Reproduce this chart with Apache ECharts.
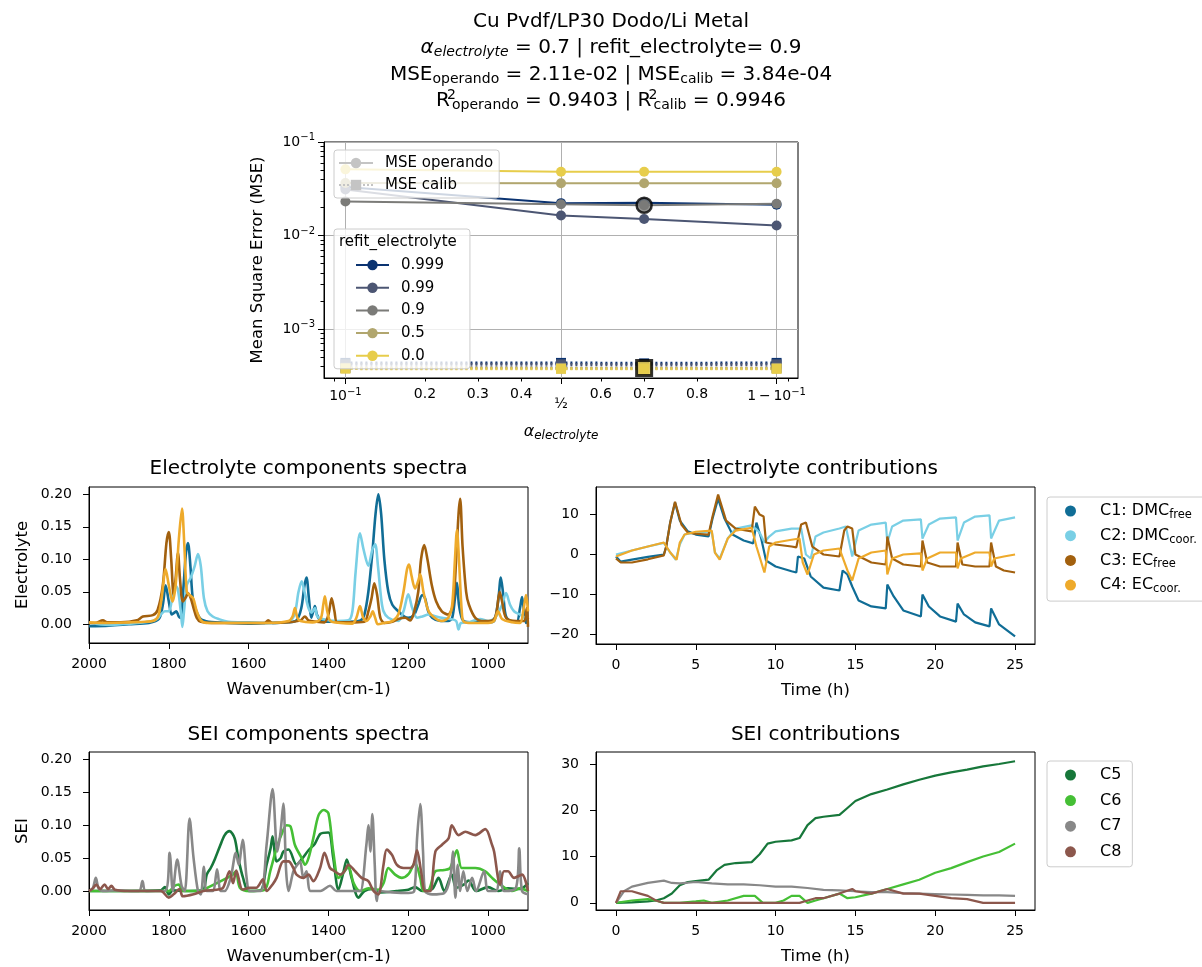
<!DOCTYPE html>
<html>
<head>
<meta charset="utf-8">
<script src="https://cdn.jsdelivr.net/npm/echarts@6.0.0/dist/echarts.min.js"></script>
<style>
  html, body { margin: 0; padding: 0; background: #fff; }
  #chart { width: 1202px; height: 967px; }
</style>
</head>
<body>
<div id="chart"></div>
<script>
const FONT = 'DejaVu Sans';

// ---- top panel: MSE vs alpha_electrolyte ----
const alphaValues = [0.1, 0.5, 0.7, 0.9];
const refitLabels = ['0.999', '0.99', '0.9', '0.5', '0.0'];
const refitColors = ['#0b3371', '#4c5673', '#7b7b78', '#b1a66e', '#e7cd4b'];
const mseOperando = [
  [0.033, 0.0222, 0.0224, 0.0214],
  [0.031, 0.0164, 0.0150, 0.0128],
  [0.0231, 0.0216, 0.0211, 0.0219],
  [0.0365, 0.0362, 0.0362, 0.0362],
  [0.051, 0.048, 0.048, 0.048]
];
const mseCalib = [
  [4.35e-4, 4.35e-4, 4.3e-4, 4.35e-4],
  [4.2e-4, 4.2e-4, 4.15e-4, 4.2e-4],
  [3.86e-4, 3.85e-4, 3.84e-4, 3.85e-4],
  [3.82e-4, 3.8e-4, 3.8e-4, 3.8e-4],
  [3.78e-4, 3.76e-4, 3.76e-4, 3.76e-4]
];
const bestAlpha = 0.7;
const bestOperando = 0.0211;
const bestCalib = 3.84e-4;
const alphaMajorTicks = [0.1, 0.5, 0.9];
const alphaMinorTicks = [0.09, 0.2, 0.3, 0.4, 0.6, 0.7, 0.8, 0.91];
const alphaMinorLabels = [0.2, 0.3, 0.4, 0.6, 0.7, 0.8];
const mseMajorTicks = [1e-3, 1e-2, 1e-1];
const mseMinorTicks = [4e-4, 5e-4, 6e-4, 7e-4, 8e-4, 9e-4,
  2e-3, 3e-3, 4e-3, 5e-3, 6e-3, 7e-3, 8e-3, 9e-3,
  2e-2, 3e-2, 4e-2, 5e-2, 6e-2, 7e-2, 8e-2, 9e-2];

// ---- spectra: [wavenumber, intensity] ----
const wavenumberTicks = [2000, 1800, 1600, 1400, 1200, 1000];
const spectraTicks = [0, 0.05, 0.1, 0.15, 0.2];

const elecC1Spec = [[2000,-0.003],[1950,-0.002],[1900,0],[1850,0.002],[1825,0.008],[1815,0.03],[1808,0.06],[1800,0.035],[1793,0.015],[1786,0.018],[1781,0.02],[1775,0.012],[1770,0.01],[1763,0.06],[1757,0.11],[1752,0.125],[1746,0.09],[1740,0.04],[1731,0.02],[1720,0.008],[1700,0.004],[1650,0.002],[1600,0.001],[1550,0.002],[1500,0.003],[1480,0.006],[1468,0.025],[1460,0.06],[1455,0.072],[1449,0.04],[1443,0.01],[1438,0.02],[1434,0.028],[1429,0.015],[1420,0.006],[1400,0.004],[1350,0.004],[1320,0.006],[1310,0.015],[1300,0.05],[1290,0.11],[1282,0.17],[1275,0.2],[1268,0.17],[1260,0.1],[1250,0.05],[1240,0.03],[1225,0.02],[1210,0.012],[1200,0.01],[1185,0.015],[1175,0.03],[1165,0.045],[1158,0.04],[1150,0.02],[1140,0.01],[1120,0.005],[1100,0.005],[1090,0.01],[1083,0.04],[1078,0.064],[1073,0.03],[1065,0.008],[1057,0.004],[1030,0.003],[1000,0.003],[985,0.005],[975,0.035],[968,0.072],[962,0.045],[955,0.012],[940,0.004],[928,0.004],[920,0.025],[915,0.042],[910,0.02],[905,0.002],[900,0.01]];
const elecC2Spec = [[2000,0.002],[1950,-0.001],[1900,0.001],[1860,0.003],[1830,0.008],[1820,0.015],[1810,0.02],[1800,0.02],[1793,0.035],[1785,0.06],[1778,0.055],[1770,0.02],[1766,-0.004],[1762,0.02],[1755,0.06],[1745,0.072],[1735,0.09],[1727,0.108],[1720,0.09],[1712,0.04],[1703,0.02],[1690,0.012],[1675,0.008],[1650,0.004],[1600,0.003],[1550,0.002],[1500,0.004],[1485,0.015],[1475,0.05],[1467,0.066],[1460,0.05],[1450,0.025],[1442,0.018],[1434,0.025],[1428,0.012],[1415,0.008],[1380,0.005],[1350,0.006],[1340,0.02],[1332,0.08],[1321,0.14],[1312,0.115],[1300,0.09],[1290,0.115],[1283,0.123],[1276,0.09],[1268,0.04],[1262,0.02],[1250,0.01],[1225,0.005],[1212,0.02],[1200,0.046],[1190,0.025],[1178,0.01],[1165,0.012],[1149,0.015],[1130,0.012],[1116,0.01],[1095,0.008],[1080,0.005],[1074,-0.008],[1068,0.002],[1050,0.003],[1020,0.008],[1000,0.005],[980,0.012],[965,0.03],[955,0.048],[945,0.03],[935,0.02],[920,0.015],[905,0.01],[900,0.012]];
const elecC3Spec = [[2000,0.002],[1985,0.002],[1965,0.006],[1955,0.003],[1920,0.003],[1880,0.006],[1865,0.012],[1840,0.014],[1828,0.022],[1815,0.06],[1806,0.125],[1800,0.142],[1794,0.1],[1788,0.045],[1783,0.07],[1777,0.11],[1772,0.07],[1765,0.035],[1757,0.042],[1752,0.048],[1745,0.04],[1738,0.025],[1730,0.01],[1720,0.004],[1680,0.002],[1640,0.002],[1560,0.002],[1551,0.006],[1540,0.002],[1500,0.003],[1470,0.006],[1459,0.012],[1450,0.006],[1430,0.004],[1410,0.003],[1400,0.015],[1392,0.04],[1385,0.02],[1378,0.003],[1350,0.003],[1310,0.004],[1300,0.02],[1292,0.04],[1285,0.063],[1278,0.045],[1270,0.01],[1260,0.002],[1240,0.004],[1225,0.008],[1208,0.01],[1195,0.006],[1185,0.02],[1175,0.05],[1168,0.1],[1160,0.122],[1152,0.1],[1141,0.06],[1130,0.035],[1116,0.02],[1100,0.015],[1088,0.03],[1080,0.1],[1074,0.17],[1070,0.193],[1064,0.12],[1055,0.05],[1048,0.03],[1032,0.01],[1010,0.005],[990,0.006],[980,0.015],[971,0.05],[965,0.035],[955,0.01],[930,0.005],[910,0.005],[903,0.025],[900,-0.004]];
const elecC4Spec = [[2000,0.003],[1960,0.002],[1900,0.003],[1860,0.004],[1840,0.005],[1827,0.012],[1818,0.04],[1808,0.085],[1800,0.06],[1791,0.035],[1783,0.06],[1775,0.13],[1767,0.178],[1761,0.12],[1755,0.05],[1748,0.045],[1739,0.04],[1730,0.02],[1718,0.005],[1700,0.002],[1650,0.002],[1600,0.002],[1550,0.002],[1500,0.005],[1490,0.012],[1484,0.025],[1478,0.01],[1470,0.005],[1440,0.003],[1420,0.008],[1413,0.03],[1409,0.043],[1403,0.02],[1395,0.005],[1370,0.002],[1340,0.001],[1330,0.01],[1321,0.028],[1313,0.01],[1305,0.005],[1295,0.012],[1289,0.02],[1283,0.01],[1276,0.0],[1260,0.002],[1240,0.005],[1225,0.015],[1212,0.05],[1203,0.085],[1198,0.092],[1192,0.075],[1183,0.055],[1176,0.065],[1170,0.077],[1162,0.05],[1149,0.02],[1130,0.008],[1116,0.005],[1100,0.01],[1090,0.03],[1083,0.1],[1078,0.145],[1073,0.1],[1066,0.02],[1061,0.004],[1040,0.002],[1000,0.002],[985,0.005],[975,0.02],[965,0.008],[940,0.003],[920,0.002],[912,0.02],[905,0.045],[900,0.02]];

const seiC5Spec = [[2000,0],[1900,0],[1820,0.001],[1810,0.006],[1800,-0.005],[1790,0.001],[1750,0.0],[1715,0.001],[1705,0.025],[1695,0.035],[1685,0.048],[1672,0.068],[1660,0.085],[1648,0.091],[1635,0.08],[1626,0.05],[1614,0.02],[1600,0.0],[1570,0.001],[1555,0.04],[1545,0.065],[1540,0.083],[1530,0.045],[1520,0.05],[1513,0.06],[1500,0.063],[1480,0.04],[1465,0.05],[1450,0.062],[1434,0.072],[1420,0.087],[1400,0.089],[1388,0.05],[1375,0.002],[1362,0.03],[1354,0.048],[1342,0.02],[1325,-0.01],[1310,0.0],[1290,0.003],[1270,-0.002],[1230,0.0],[1200,0.002],[1183,0.006],[1165,0.0],[1140,0.003],[1124,0.02],[1110,0.0],[1091,0.025],[1080,0.005],[1060,0.01],[1049,0.016],[1030,0.0],[1000,0.006],[975,0.0],[950,0.004],[920,0.003],[900,0.012]];
const seiC6Spec = [[2000,0],[1900,0],[1800,0.0],[1785,0.008],[1775,0.01],[1765,0.0],[1720,0.0],[1700,0.006],[1660,0.018],[1640,0.025],[1632,0.03],[1622,0.005],[1600,0.0],[1560,0.002],[1546,0.03],[1530,0.065],[1515,0.09],[1505,0.1],[1495,0.098],[1484,0.07],[1467,0.05],[1459,0.04],[1450,0.05],[1438,0.08],[1425,0.115],[1412,0.123],[1400,0.118],[1388,0.06],[1375,0.02],[1360,0.03],[1350,0.037],[1337,0.012],[1321,0.0],[1300,0.004],[1275,0.002],[1262,0.012],[1250,0.035],[1233,0.025],[1216,0.02],[1199,0.026],[1183,0.043],[1170,0.02],[1162,0.0],[1148,0.002],[1132,0.03],[1110,0.032],[1095,0.035],[1078,0.062],[1066,0.035],[1045,0.035],[1032,0.035],[1007,0.03],[990,0.02],[970,0.01],[940,0.0],[920,0.004],[900,0.0]];
const seiC7Spec = [[2000,0],[1990,0.005],[1983,0.02],[1975,0.003],[1960,0.0],[1940,0.001],[1875,0.0],[1866,0.015],[1858,0.0],[1810,0.0],[1798,0.058],[1790,0.0],[1779,0.048],[1768,0.008],[1760,0.0],[1748,0.11],[1738,0.05],[1727,0.0],[1720,-0.005],[1712,0.037],[1705,0.0],[1690,0.0],[1679,0.033],[1670,0.0],[1660,0.0],[1645,0.02],[1632,0.058],[1625,0.04],[1615,0.078],[1605,0.02],[1597,0.0],[1570,0.0],[1555,0.07],[1540,0.155],[1528,0.06],[1520,0.09],[1513,0.133],[1506,0.03],[1500,0.0],[1488,0.03],[1478,0.04],[1471,0.045],[1463,0.02],[1455,0.03],[1445,0.0],[1420,0.0],[1396,0.008],[1380,0.0],[1330,0.0],[1320,0.0],[1305,0.07],[1300,0.1],[1295,0.06],[1290,0.117],[1284,0.04],[1279,-0.015],[1272,0.0],[1240,-0.002],[1200,-0.003],[1185,0.0],[1178,0.08],[1170,0.132],[1163,0.06],[1158,0.0],[1140,-0.005],[1110,-0.003],[1095,0.02],[1088,0.06],[1082,-0.01],[1076,0.04],[1070,0.0],[1062,0.03],[1052,0.0],[1040,0.02],[1030,0.0],[1010,0.03],[1000,0.0],[980,0.0],[970,0.03],[960,0.0],[930,0.005],[922,0.065],[915,0.0],[900,-0.005]];
const seiC8Spec = [[2000,0.0],[1990,0.004],[1982,0.01],[1972,0.003],[1961,0.01],[1952,0.003],[1944,0.008],[1935,0.002],[1900,0.0],[1820,0.0],[1800,-0.01],[1788,-0.005],[1773,0.003],[1765,-0.008],[1738,-0.005],[1713,0.0],[1680,0.002],[1664,0.005],[1648,0.03],[1639,0.012],[1631,0.031],[1615,0.002],[1598,0.005],[1581,0.005],[1564,0.018],[1555,0.0],[1540,0.01],[1530,0.02],[1513,0.045],[1500,0.045],[1488,0.035],[1480,0.025],[1462,0.02],[1450,0.025],[1438,0.015],[1421,0.035],[1410,0.058],[1396,0.035],[1384,0.03],[1371,0.025],[1360,0.03],[1350,0.04],[1333,0.03],[1317,0.02],[1300,0.015],[1287,0.0],[1275,-0.005],[1262,0.04],[1254,0.063],[1241,0.055],[1229,0.04],[1212,0.035],[1195,0.035],[1187,0.04],[1178,0.062],[1168,0.03],[1158,0.0],[1145,0.0],[1132,0.06],[1116,0.07],[1099,0.08],[1091,0.1],[1074,0.085],[1057,0.09],[1032,0.085],[1007,0.094],[990,0.07],[985,0.06],[970,0.01],[960,0.03],[950,0.03],[935,0.02],[915,0.025],[900,0.0]];

// ---- contributions: [time (h), value] ----
const timeTicks = [0, 5, 10, 15, 20, 25];
const elecContribTicks = [-20, -10, 0, 10];
const seiContribTicks = [0, 10, 20, 30];

const c1Contrib = [[0,-0.5],[0.3,-1.8],[1,-1.3],[2,-0.6],[3,0],[3.15,2],[3.4,8],[3.7,13],[4,8.5],[4.5,5.8],[5,5],[5.8,4.5],[6.05,9],[6.4,14],[6.8,9],[7.3,5],[8,3.5],[8.6,2.8],[8.8,8],[9.1,4],[9.4,-1.5],[10,-3],[11,-4.2],[11.3,-4.5],[11.4,-0.5],[11.8,-1],[12.2,-5.5],[13,-8.3],[14,-9],[14.2,-4],[14.5,-5],[14.8,-8],[15.2,-11.5],[16,-13],[16.9,-13.5],[17,-7.5],[17.4,-10.5],[18,-14],[19.1,-15.5],[19.2,-10],[19.6,-13],[20.3,-15.5],[21.3,-16.8],[21.4,-12.3],[21.8,-15],[22.5,-17],[23.4,-18],[23.5,-13.5],[24,-17.5],[25,-20.5]];
const c2Contrib = [[0,0],[1,1],[2,2],[3,2.9],[3.4,0.5],[3.75,-1.3],[4,2.5],[4.3,5],[5,5.5],[6,5.8],[6.2,0.5],[6.5,-1],[7,4],[7.5,6.5],[8.5,7.3],[9,5.5],[9.3,3],[9.6,4.5],[10,5.8],[11,6.5],[11.6,6.5],[11.9,0],[12.2,-1],[12.5,4.5],[13,5.5],[14,6.5],[14.4,7],[14.8,-0.5],[15.2,6],[16,7.5],[16.9,8],[17,3],[17.3,7],[18,8.5],[19.1,8.8],[19.2,4],[19.6,7.5],[20.3,9],[21.3,9.3],[21.4,3.5],[21.8,8],[22.5,9.5],[23.4,9.8],[23.5,4],[24,8.5],[25,9.3]];
const c3Contrib = [[0,-1],[0.3,-2],[1,-2],[2,-1.2],[3,-0.2],[3.15,2],[3.4,8],[3.7,13.2],[4.1,7.5],[4.5,5.5],[5,5.2],[5.8,5],[6.05,9.5],[6.4,15],[6.9,8.5],[7.5,6.5],[8.5,5.8],[8.7,12],[9,10],[9.25,9.5],[9.4,3],[10,2.5],[11,2],[11.3,1.8],[11.6,7.5],[11.9,8],[12.3,2],[13,0],[14,-0.5],[14.3,6],[14.5,7],[14.8,6.5],[15,0],[16,-2],[16.9,-2.5],[17,4.5],[17.3,-1],[18,-2.5],[19.1,-3],[19.2,3.5],[19.5,-2],[20.3,-3],[21.3,-3],[21.4,3],[21.7,-2.5],[22.5,-3],[23.4,-3],[23.5,3],[23.8,-3],[24.3,-4],[25,-4.5]];
const c4Contrib = [[0,-0.5],[1,1],[2,2],[3,3],[3.4,0.5],[3.8,-1.3],[4,3],[4.3,5],[5,5.7],[6,6],[6.2,0.5],[6.5,-1.3],[7,4],[7.5,6],[8.5,6.7],[8.8,2],[9.3,-4.5],[9.6,2],[10,3],[11,3.7],[11.5,4],[11.7,-2],[12,-5],[12.4,0],[13,1],[14,1.5],[14.5,-4],[14.8,-6.5],[15.2,-1],[16,0.5],[16.9,1],[17,-5],[17.3,-1],[18,0],[19.1,0.3],[19.2,-4],[19.5,-1],[20.3,0.5],[21.3,0.5],[21.4,-3.5],[21.6,-1],[22.5,0.5],[23.4,0.5],[23.5,-3],[23.7,-1],[24.3,-0.5],[25,0]];

const c5Contrib = [[0,0],[1,0.1],[2,0.3],[2.5,0.5],[3,1],[3.5,2],[4,3.8],[4.5,4.5],[5,4.7],[5.8,5],[6.3,7],[6.8,8.2],[7.5,8.6],[8.5,8.8],[9,10.5],[9.5,12.8],[10,13.2],[11,13.5],[11.5,14],[12,16.8],[12.5,18.3],[13,18.6],[14,19],[14.5,20.5],[15,22],[16,23.5],[17,24.5],[18,25.6],[19,26.6],[20,27.5],[21,28.2],[22,28.8],[23,29.5],[24,30],[25,30.6]];
const c6Contrib = [[0,0],[1,0.5],[2,0.8],[2.5,0.5],[3,0],[4,0],[5,0.3],[5.5,0.5],[6,0],[7,0.5],[8,1.5],[8.7,1.5],[9.2,0],[10,0],[10.5,0.5],[11,1.5],[11.5,1.5],[12,0],[12.5,0.5],[13,1],[14,2],[14.5,1],[15,1.2],[16,2],[17,3],[18,4],[19,5],[20,6.5],[21,7.5],[22,8.8],[23,10],[24,11],[25,12.8]];
const c7Contrib = [[0,0],[0.5,2.5],[1,3.5],[2,4.3],[3,4.8],[3.5,4.3],[4,4.2],[5,4.5],[6,4.2],[7,4],[8,4],[9,3.8],[10,3.5],[11,3.5],[12,3.2],[13,2.8],[14,2.7],[15,2.5],[16,2.3],[17,2.3],[18,2.1],[19,2],[20,1.9],[21,1.8],[22,1.7],[23,1.6],[24,1.6],[25,1.5]];
const c8Contrib = [[0,0],[0.3,2.5],[1,2.5],[1.5,2],[2,1.5],[2.5,0.5],[3,0],[11.5,0],[12,0.5],[12.5,1],[13,1],[14,2],[14.8,3],[15,2.5],[16,2],[17,3],[18,2],[19,2],[20,1.5],[21,1],[22,0.8],[23,0],[25,0]];

const componentColors = {
  C1: '#106d96', C2: '#79cfe5', C3: '#a2600e', C4: '#eeaa2b',
  C5: '#17773a', C6: '#45bf35', C7: '#888888', C8: '#8c574c'
};
const componentLabels = {
  C1: 'C1: DMC{sub|free}', C2: 'C2: DMC{sub|coor.}', C3: 'C3: EC{sub|free}', C4: 'C4: EC{sub|coor.}',
  C5: 'C5', C6: 'C6', C7: 'C7', C8: 'C8'
};

const logit = p => Math.log(p / (1 - p));
const invLogit = v => 1 / (1 + Math.exp(-v));

const chart = echarts.init(document.getElementById('chart'));

const black = { color: '#000', width: 1 };
const tickLabel = { fontFamily: FONT, fontSize: 14, color: '#000' };
const minusFmt = v => (v < 0 ? '\u2212' + Math.abs(v) : String(v));

function frameGrid(left, top, width, height) {
  return { left, top, width, height, show: true, borderColor: '#000', borderWidth: 1, backgroundColor: 'transparent' };
}

function plainAxis(gridIndex, min, max, ticks, formatter, margin, extra) {
  return Object.assign({
    type: 'value', gridIndex, min, max,
    axisLine: { show: true, onZero: false, lineStyle: black },
    axisTick: { show: true, length: 6, customValues: ticks, lineStyle: black },
    axisLabel: Object.assign({ customValues: ticks, margin, formatter }, tickLabel),
    splitLine: { show: false }
  }, extra || {});
}

function spectrumSeries(name, data, axis, color) {
  return {
    name, type: 'line', xAxisIndex: axis, yAxisIndex: axis, data,
    symbol: 'none', smooth: 0.3, color,
    lineStyle: { width: 2.6, color }
  };
}

function contribSeries(name, data, axis) {
  return {
    name, type: 'line', xAxisIndex: axis, yAxisIndex: axis, data,
    symbol: 'circle', showSymbol: false, color: componentColors[name],
    lineStyle: { width: 2.2, color: componentColors[name] }
  };
}

const series = [];
// legend-only entries for the marker styles
series.push({ name: 'MSE operando', type: 'line', xAxisIndex: 0, yAxisIndex: 0, data: [],
  symbol: 'circle', color: '#c4c4c4', lineStyle: { width: 2.5, color: '#c4c4c4' } });
series.push({ name: 'MSE calib', type: 'line', xAxisIndex: 0, yAxisIndex: 0, data: [],
  symbol: 'rect', color: '#c4c4c4', lineStyle: { width: 2.5, type: 'dotted', color: '#c4c4c4' } });

refitLabels.forEach((r, i) => {
  series.push({
    name: r, type: 'line', xAxisIndex: 0, yAxisIndex: 0,
    data: alphaValues.map((a, j) => [logit(a), mseOperando[i][j]]),
    symbol: 'circle', symbolSize: 10, color: refitColors[i],
    lineStyle: { width: 2, color: refitColors[i] }
  });
});
refitLabels.forEach((r, i) => {
  series.push({
    name: r + ' calib', type: 'line', xAxisIndex: 0, yAxisIndex: 0,
    data: alphaValues.map((a, j) => [logit(a), mseCalib[i][j]]),
    symbol: 'rect', symbolSize: 10, color: refitColors[i],
    lineStyle: { width: 3, type: [2, 3], color: refitColors[i] }
  });
});
series.push({
  name: 'best operando', type: 'scatter', xAxisIndex: 0, yAxisIndex: 0, z: 5,
  data: [[logit(bestAlpha), bestOperando]], symbol: 'circle', symbolSize: 15,
  itemStyle: { color: refitColors[2], borderColor: '#000', borderWidth: 2.5 }
});
series.push({
  name: 'best calib', type: 'scatter', xAxisIndex: 0, yAxisIndex: 0, z: 5,
  data: [[logit(bestAlpha), bestCalib]], symbol: 'rect', symbolSize: 15,
  itemStyle: { color: refitColors[4], borderColor: '#000', borderWidth: 3 }
});

series.push(spectrumSeries('C1 spectrum', elecC1Spec, 2, componentColors.C1));
series.push(spectrumSeries('C2 spectrum', elecC2Spec, 2, componentColors.C2));
series.push(spectrumSeries('C3 spectrum', elecC3Spec, 2, componentColors.C3));
series.push(spectrumSeries('C4 spectrum', elecC4Spec, 2, componentColors.C4));
series.push(spectrumSeries('C5 spectrum', seiC5Spec, 4, componentColors.C5));
series.push(spectrumSeries('C6 spectrum', seiC6Spec, 4, componentColors.C6));
series.push(spectrumSeries('C7 spectrum', seiC7Spec, 4, componentColors.C7));
series.push(spectrumSeries('C8 spectrum', seiC8Spec, 4, componentColors.C8));

series.push(contribSeries('C1', c1Contrib, 3));
series.push(contribSeries('C2', c2Contrib, 3));
series.push(contribSeries('C3', c3Contrib, 3));
series.push(contribSeries('C4', c4Contrib, 3));
series.push(contribSeries('C5', c5Contrib, 5));
series.push(contribSeries('C6', c6Contrib, 5));
series.push(contribSeries('C7', c7Contrib, 5));
series.push(contribSeries('C8', c8Contrib, 5));

const alphaMin = logit(0.082);
const alphaMax = logit(0.918);

const supRich = { sup: { fontFamily: FONT, fontSize: 10, padding: [0, 0, 9, 0], color: '#000' } };

const option = {
  animation: false,
  backgroundColor: '#fff',
  textStyle: { fontFamily: FONT },
  grid: [
    frameGrid(324, 142, 474, 236),
    frameGrid(89, 487, 439, 156),
    frameGrid(596, 487, 439, 157),
    frameGrid(89, 752, 439, 158),
    frameGrid(596, 752, 439, 158)
  ],
  xAxis: [
    {
      type: 'value', gridIndex: 0, min: alphaMin, max: alphaMax, position: 'bottom',
      name: '{a|\u03b1}{s|electrolyte}', nameLocation: 'middle', nameGap: 44,
      nameTextStyle: { rich: {
        a: { fontFamily: FONT, fontSize: 16, fontStyle: 'italic', color: '#000' },
        s: { fontFamily: FONT, fontSize: 12, fontStyle: 'italic', color: '#000', padding: [8, 0, 0, 0] }
      } },
      axisLine: { show: true, onZero: false, lineStyle: black },
      axisTick: { show: true, length: 6, customValues: alphaMajorTicks.map(logit), lineStyle: black },
      axisLabel: Object.assign({
        customValues: alphaMajorTicks.map(logit), margin: 9,
        formatter: v => {
          const p = Math.round(invLogit(v) * 100) / 100;
          if (p === 0.1) return '10{sup|\u22121}';
          if (p === 0.5) return '{frac|\u00bd}';
          return '1\u2009\u2212\u200910{sup|\u22121}';
        },
        rich: Object.assign({ frac: { fontFamily: FONT, fontSize: 14, color: '#000', padding: [10, 0, 0, 0] } }, supRich)
      }, tickLabel),
      splitLine: { show: true, lineStyle: { color: '#b0b0b0', width: 1 } }
    },
    {
      type: 'value', gridIndex: 0, min: alphaMin, max: alphaMax, position: 'bottom',
      axisLine: { show: false, onZero: false },
      axisTick: { show: true, length: 3.5, customValues: alphaMinorTicks.map(logit), lineStyle: black },
      axisLabel: Object.assign({
        customValues: alphaMinorLabels.map(logit), margin: 9,
        formatter: v => invLogit(v).toFixed(1)
      }, tickLabel),
      splitLine: { show: false }
    },
    plainAxis(1, 900, 2000, wavenumberTicks, v => String(v), 14,
      { inverse: true, name: 'Wavenumber(cm-1)', nameLocation: 'middle', nameGap: 38,
        nameTextStyle: { fontFamily: FONT, fontSize: 16.5, color: '#000' } }),
    plainAxis(2, -1.25, 26.25, timeTicks, minusFmt, 14,
      { name: 'Time (h)', nameLocation: 'middle', nameGap: 38,
        nameTextStyle: { fontFamily: FONT, fontSize: 16.5, color: '#000' } }),
    plainAxis(3, 900, 2000, wavenumberTicks, v => String(v), 14,
      { inverse: true, name: 'Wavenumber(cm-1)', nameLocation: 'middle', nameGap: 38,
        nameTextStyle: { fontFamily: FONT, fontSize: 16.5, color: '#000' } }),
    plainAxis(4, -1.25, 26.25, timeTicks, minusFmt, 14,
      { name: 'Time (h)', nameLocation: 'middle', nameGap: 38,
        nameTextStyle: { fontFamily: FONT, fontSize: 16.5, color: '#000' } })
  ],
  yAxis: [
    {
      type: 'log', logBase: 10, gridIndex: 0, min: 3.0e-4, max: 0.1, position: 'left',
      name: 'Mean Square Error (MSE)', nameLocation: 'middle', nameGap: 58,
      nameTextStyle: { fontFamily: FONT, fontSize: 16.5, color: '#000' },
      axisLine: { show: true, onZero: false, lineStyle: black },
      axisTick: { show: true, length: 6, customValues: mseMajorTicks, lineStyle: black },
      axisLabel: Object.assign({
        customValues: mseMajorTicks, margin: 9,
        formatter: v => '10{sup|\u2212' + Math.round(-Math.log10(v)) + '}',
        rich: supRich
      }, tickLabel),
      splitLine: { show: true, lineStyle: { color: '#b0b0b0', width: 1 } }
    },
    {
      type: 'log', logBase: 10, gridIndex: 0, min: 3.0e-4, max: 0.1, position: 'left',
      axisLine: { show: false, onZero: false },
      axisTick: { show: true, length: 3.5, customValues: mseMinorTicks, lineStyle: black },
      axisLabel: { show: false },
      splitLine: { show: false }
    },
    plainAxis(1, -0.0288, 0.2112, spectraTicks, v => v.toFixed(2), 17,
      { name: 'Electrolyte', nameLocation: 'middle', nameGap: 58,
        nameTextStyle: { fontFamily: FONT, fontSize: 16.5, color: '#000' } }),
    plainAxis(2, -22.4, 16.9, elecContribTicks, minusFmt, 17),
    plainAxis(3, -0.0288, 0.2112, spectraTicks, v => v.toFixed(2), 17,
      { name: 'SEI', nameLocation: 'middle', nameGap: 58,
        nameTextStyle: { fontFamily: FONT, fontSize: 16.5, color: '#000' } }),
    plainAxis(4, -1.55, 32.6, seiContribTicks, minusFmt, 17)
  ],
  legend: [
    {
      data: ['MSE operando', 'MSE calib'], left: 334, top: 150, orient: 'vertical',
      itemWidth: 34, itemHeight: 13, itemGap: 4, selectedMode: false,
      padding: [4, 6, 4, 4],
      backgroundColor: 'rgba(255,255,255,0.8)', borderColor: '#cccccc', borderWidth: 1, borderRadius: 3,
      textStyle: { fontFamily: FONT, fontSize: 15, color: '#000', lineHeight: 18, padding: [0, 0, 0, 7] }
    },
    {
      data: refitLabels, left: 334, top: 229, orient: 'vertical',
      itemWidth: 33, itemHeight: 13, itemGap: 4.7, selectedMode: false,
      padding: [27, 26, 4, 21],
      backgroundColor: 'rgba(255,255,255,0.8)', borderColor: '#cccccc', borderWidth: 1, borderRadius: 3,
      textStyle: { fontFamily: FONT, fontSize: 15, color: '#000', lineHeight: 18, padding: [0, 0, 0, 7] }
    },
    {
      data: ['C1', 'C2', 'C3', 'C4'], left: 1047, top: 497, orient: 'vertical', icon: 'circle',
      itemWidth: 11, itemHeight: 11, itemGap: 4.7, selectedMode: false,
      padding: [4, 12, 6, 18],
      backgroundColor: 'rgba(255,255,255,0.8)', borderColor: '#cccccc', borderWidth: 1, borderRadius: 3,
      formatter: name => componentLabels[name],
      textStyle: { fontFamily: FONT, fontSize: 16, color: '#000', lineHeight: 20, padding: [0, 0, 0, 19],
        rich: { sub: { fontFamily: FONT, fontSize: 11.5, color: '#000', padding: [8, 0, 0, 0] } } }
    },
    {
      data: ['C5', 'C6', 'C7', 'C8'], left: 1047, top: 761, orient: 'vertical', icon: 'circle',
      itemWidth: 11, itemHeight: 11, itemGap: 5.6, selectedMode: false,
      padding: [4, 11, 5, 18],
      backgroundColor: 'rgba(255,255,255,0.8)', borderColor: '#cccccc', borderWidth: 1, borderRadius: 3,
      formatter: name => componentLabels[name],
      textStyle: { fontFamily: FONT, fontSize: 16, color: '#000', lineHeight: 20, padding: [0, 0, 0, 19] }
    }
  ],
  graphic: [
    { type: 'text', x: 611, y: 22, z: 100, style: { text: 'Cu Pvdf/LP30 Dodo/Li Metal',
      fontFamily: FONT, fontSize: 20, fill: '#000', align: 'center', verticalAlign: 'middle' } },
    { type: 'text', x: 611, y: 48, z: 100, style: {
      text: '{a|\u03b1}{s|electrolyte} = 0.7 | refit_electrolyte= 0.9',
      fontFamily: FONT, fontSize: 20, fill: '#000', align: 'center', verticalAlign: 'middle',
      rich: {
        a: { fontFamily: FONT, fontSize: 20, fontStyle: 'italic', fill: '#000' },
        s: { fontFamily: FONT, fontSize: 14, fontStyle: 'italic', fill: '#000', padding: [9, 0, 0, 0] }
      } } },
    { type: 'text', x: 611, y: 75, z: 100, style: {
      text: 'MSE{s|operando} = 2.11e-02 | MSE{s|calib} = 3.84e-04',
      fontFamily: FONT, fontSize: 20, fill: '#000', align: 'center', verticalAlign: 'middle',
      rich: { s: { fontFamily: FONT, fontSize: 14, fill: '#000', padding: [9, 0, 0, 0] } } } },
    { type: 'text', x: 611, y: 101, z: 100, style: {
      text: 'R{p|2}{s|operando} = 0.9403 | R{p|2}{s|calib} = 0.9946',
      fontFamily: FONT, fontSize: 20, fill: '#000', align: 'center', verticalAlign: 'middle',
      rich: {
        p: { fontFamily: FONT, fontSize: 14, fill: '#000', width: 1, padding: [0, 0, 12, 1] },
        s: { fontFamily: FONT, fontSize: 14, fill: '#000', padding: [9, 0, 0, 0] }
      } } },
    { type: 'text', x: 339, y: 242, z: 100, style: { text: 'refit_electrolyte',
      fontFamily: FONT, fontSize: 15, fill: '#000', align: 'left', verticalAlign: 'middle' } },
    { type: 'text', x: 308.5, y: 469, z: 100, style: { text: 'Electrolyte components spectra',
      fontFamily: FONT, fontSize: 20, fill: '#000', align: 'center', verticalAlign: 'middle' } },
    { type: 'text', x: 815.5, y: 469, z: 100, style: { text: 'Electrolyte contributions',
      fontFamily: FONT, fontSize: 20, fill: '#000', align: 'center', verticalAlign: 'middle' } },
    { type: 'text', x: 308.5, y: 735, z: 100, style: { text: 'SEI components spectra',
      fontFamily: FONT, fontSize: 20, fill: '#000', align: 'center', verticalAlign: 'middle' } },
    { type: 'text', x: 815.5, y: 735, z: 100, style: { text: 'SEI contributions',
      fontFamily: FONT, fontSize: 20, fill: '#000', align: 'center', verticalAlign: 'middle' } }
  ],
  series
};

chart.setOption(option);
</script>
</body>
</html>
